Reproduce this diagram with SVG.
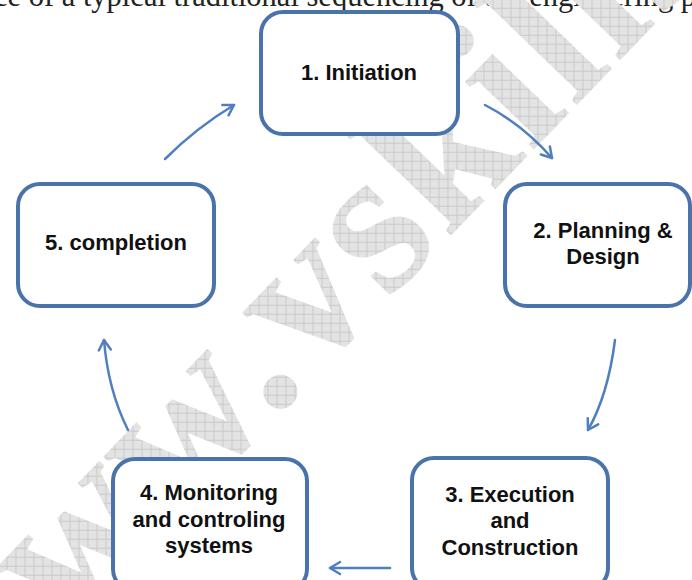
<svg xmlns="http://www.w3.org/2000/svg" width="692" height="580" viewBox="0 0 692 580">
<style>
.box{fill:#ffffff;stroke:#4a73ab;stroke-width:4}
.lbl{font-family:"Liberation Sans",Arial,sans-serif;font-size:22px;font-weight:bold;fill:#111111;text-anchor:middle}
.arr{fill:none;stroke:#4f7fbf;stroke-width:2.5;stroke-linecap:round;marker-end:url(#head)}
</style>
<defs>
<pattern id="hatch" width="9" height="9" patternUnits="userSpaceOnUse" patternTransform="rotate(46)">
<rect width="9" height="9" fill="#e3e3e3"/>
<path d="M0,0.5H9M0.5,0V9" stroke="#cacaca" stroke-width="1"/>
</pattern>
<marker id="head" viewBox="-12 -8 14 16" markerWidth="14" markerHeight="16" refX="0" refY="0" orient="auto" markerUnits="userSpaceOnUse">
<path d="M-10,-6 L0,0 L-10,6" fill="none" stroke="#4f7fbf" stroke-width="2.5" stroke-linecap="round" stroke-linejoin="round"/>
</marker>
</defs>
<rect width="692" height="580" fill="#ffffff"/>
<text x="-6" y="6" font-family="'Liberation Serif',serif" font-size="30.5" fill="#222222">ce of a typical traditional sequencing of the engineering p</text>
<g id="watermark">
<text x="-44" y="748" transform="rotate(-46 -44 748)" font-family="'Liberation Serif',serif" font-size="210" font-weight="bold" letter-spacing="4" fill="url(#hatch)">www.vskills.in</text>
</g>
<g id="connectors">
<path class="arr" d="M165,159 Q196,128 234,105"/>
<path class="arr" d="M485,105 Q522,124 552,158"/>
<path class="arr" d="M615,340 Q608,395 588,430"/>
<path class="arr" d="M390,568 L330,568"/>
<path class="arr" d="M128,430 Q108,390 104,340"/>
</g>
<g id="n1">
<rect class="box" x="261" y="12" width="197" height="122" rx="22"/>
<text class="lbl" x="359" y="80">1. Initiation</text>
</g>
<g id="n2">
<rect class="box" x="505" y="184" width="185" height="122" rx="22"/>
<text class="lbl" x="603" y="238">2. Planning &amp;</text>
<text class="lbl" x="603" y="264">Design</text>
</g>
<g id="n3">
<rect class="box" x="412" y="458" width="196" height="132" rx="22"/>
<text class="lbl" x="510" y="502">3. Execution</text>
<text class="lbl" x="510" y="528">and</text>
<text class="lbl" x="510" y="555">Construction</text>
</g>
<g id="n4">
<rect class="box" x="113" y="459" width="194" height="132" rx="22"/>
<text class="lbl" x="209" y="500">4. Monitoring</text>
<text class="lbl" x="209" y="527">and controling</text>
<text class="lbl" x="209" y="553">systems</text>
</g>
<g id="n5">
<rect class="box" x="18" y="184" width="196" height="122" rx="22"/>
<text class="lbl" x="116" y="250">5. completion</text>
</g>
</svg>
